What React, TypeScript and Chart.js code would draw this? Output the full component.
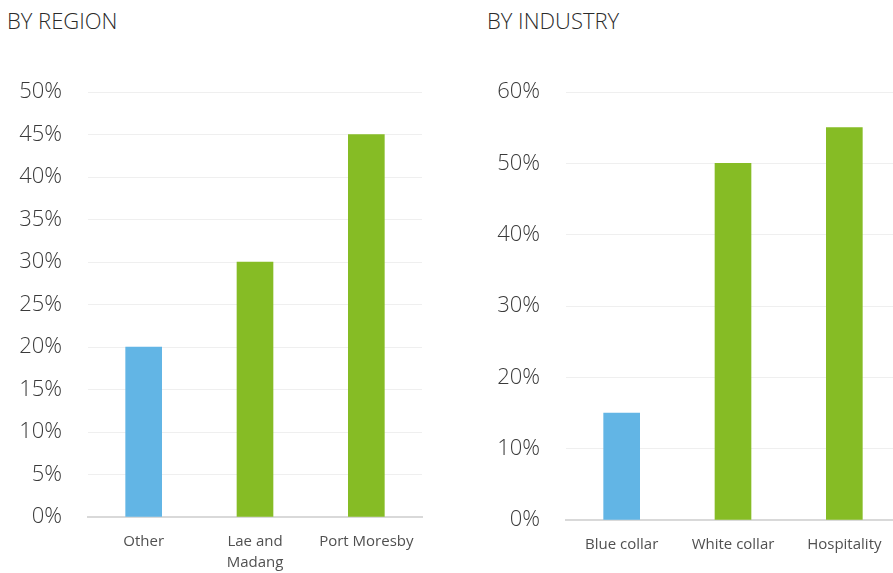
import React, { useEffect, useRef } from "react";
import { Chart, registerables } from "chart.js";

Chart.register(...registerables);

const regionCategories: (string | string[])[] = ["Other", ["Lae and", "Madang"], "Port Moresby"];
const regionValues = [20, 30, 45];
const regionColors = ["#62b5e5", "#86bc25", "#86bc25"];

const industryCategories: string[] = ["Blue collar", "White collar", "Hospitality"];
const industryValues = [15, 50, 55];
const industryColors = ["#62b5e5", "#86bc25", "#86bc25"];

const FONT = "'Open Sans', 'Noto Sans', sans-serif";

type PanelProps = {
  title: string;
  labels: (string | string[])[];
  values: number[];
  colors: string[];
  max: number;
  step: number;
  left: number;
  width: number;
  yWidth: number;
  xHeight: number;
  padTop: number;
  padRight: number;
};

function Panel(p: PanelProps) {
  const ref = useRef<HTMLCanvasElement | null>(null);
  useEffect(() => {
    if (!ref.current) return;
    const chart = new Chart(ref.current, {
      type: "bar",
      data: {
        labels: p.labels,
        datasets: [
          {
            data: p.values,
            backgroundColor: p.colors,
            barThickness: 36,
          },
        ],
      },
      options: {
        animation: false,
        responsive: false,
        maintainAspectRatio: false,
        layout: { padding: { top: p.padTop, right: p.padRight, left: 0, bottom: 0 } },
        plugins: { legend: { display: false }, tooltip: { enabled: false }, title: { display: false } },
        scales: {
          x: {
            grid: { display: false, drawTicks: false },
            border: { display: true, color: "#d9d9d9", width: 2 },
            ticks: {
              color: "#505050",
              font: { family: FONT, size: 15, weight: 400, lineHeight: 1.4 },
              padding: 14,
              maxRotation: 0,
              autoSkip: false,
            },
            afterFit: (s: any) => {
              s.height = p.xHeight;
            },
          },
          y: {
            min: 0,
            max: p.max,
            grid: { color: "#efefef", lineWidth: 1, drawTicks: false },
            border: { display: false },
            ticks: {
              stepSize: p.step,
              color: "#3a3a3a",
              font: { family: FONT, size: 22, weight: 300 },
              padding: 26,
              callback: (v: any) => v + "%",
            },
            afterFit: (s: any) => {
              s.width = p.yWidth;
            },
          },
        },
      },
    });
    return () => chart.destroy();
  }, []);
  return (
    <>
      <div
        style={{
          position: "absolute",
          left: p.left + 7,
          top: 5,
          fontFamily: FONT,
          fontWeight: 300,
          fontSize: 22,
          color: "#2a2a2a",
          whiteSpace: "nowrap",
        }}
      >
        {p.title}
      </div>
      <canvas
        ref={ref}
        width={p.width}
        height={573}
        style={{ position: "absolute", left: p.left, top: 0, width: p.width, height: 573 }}
      />
    </>
  );
}

export default function App() {
  return (
    <div
      style={{
        position: "fixed",
        left: 0,
        top: 0,
        width: 893,
        height: 573,
        overflow: "hidden",
        background: "#ffffff",
      }}
    >
      <Panel
        title="BY REGION"
        labels={regionCategories}
        values={regionValues}
        colors={regionColors}
        max={50}
        step={5}
        left={0}
        width={440}
        yWidth={88}
        xHeight={56}
        padTop={92}
        padRight={18}
      />
      <Panel
        title="BY INDUSTRY"
        labels={industryCategories}
        values={industryValues}
        colors={industryColors}
        max={60}
        step={10}
        left={480}
        width={430}
        yWidth={86}
        xHeight={53}
        padTop={92}
        padRight={10}
      />
    </div>
  );
}
